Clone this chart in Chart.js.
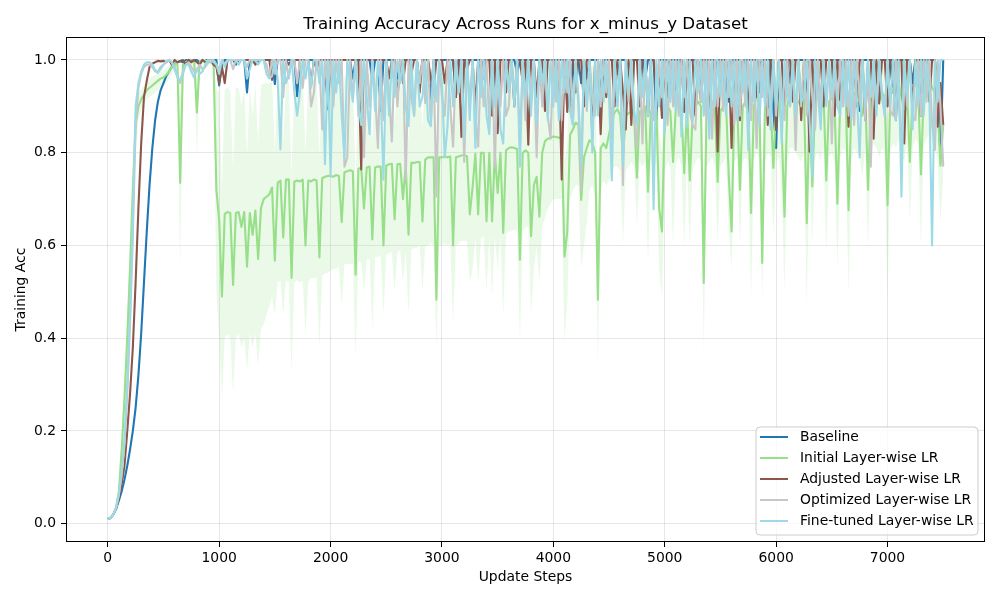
<!DOCTYPE html>
<html>
<head>
<meta charset="utf-8">
<script src="https://cdn.jsdelivr.net/npm/chart.js@4.4.1/dist/chart.umd.min.js"></script>
<style>
  html, body { margin: 0; padding: 0; background: #ffffff; }
  #wrap { width: 1000px; height: 600px; }
</style>
</head>
<body>
<div id="wrap"><canvas id="c" width="1000" height="600"></canvas></div>
<script>
// ---- x grid: one sample every 25 update steps, 20 samples per row (500 steps per row) ----
const STEP = 25, PER_ROW = 20;
const steps = Array.from({length: 301}, (_, i) => i * STEP);
const xTicks = [0, 1000, 2000, 3000, 4000, 5000, 6000, 7000];
const yTicks = [0.0, 0.2, 0.4, 0.6, 0.8, 1.0];
const titleText = 'Training Accuracy Across Runs for x_minus_y Dataset';
const seriesNames = ['Baseline', 'Initial Layer-wise LR', 'Adjusted Layer-wise LR', 'Optimized Layer-wise LR', 'Fine-tuned Layer-wise LR'];

// ---- Baseline ----
const baselineAcc = [
 [0.01,0.012,0.02,0.032,0.05,0.07,0.095,0.125,0.16,0.2,0.25,0.32,0.41,0.52,0.63,0.73,0.81,0.87,0.91,0.935],
 [0.95,0.965,0.975,0.985,0.99,0.995,0.997,0.995,1,1,0.998,1,1,0.995,1,1,1,0.995,1,1],
 [0.945,0.99,1,1,1,1,0.99,1,1,1,0.93,1,1,1,0.995,1,1,1,1,1],
 [0.948,1,1,1,1,1,1,1,0.922,1,1,1,1,1,1,1,1,1,1,0.894],
 [1,1,1,1,1,1,1,1,0.96,1,1,1,1,1,1,0.955,1,1,0.89,1],
 [1,1,1,1,0.96,1,1,1,1,1,1,1,0.95,1,1,1,0.914,1,1,1],
 [1,1,1,1,1,0.92,1,1,1,1,1,1,1,1,0.95,1,1,1,1,1],
 [1,1,1,1,1,1,1,0.97,1,1,1,1,1,1,1,1,1,1,1,1],
 [1,1,1,1,1,1,0.89,1,1,1,0.95,1,0.96,1,1,1,1,0.94,1,1],
 [1,1,1,0.97,1,1,1,0.95,1,1,1,1,1,0.96,1,1,1,0.87,1,1],
 [1,1,0.95,1,1,1,1,0.925,1,1,1,1,0.94,1,1,1,1,1,0.96,1],
 [1,1,1,0.91,1,1,1,1,0.95,1,1,1,1,1,0.93,1,1,1,1,0.892],
 [0.81,1,1,1,1,0.95,1,1,1,1,1,0.93,1,1,1,1,0.88,1,1,1],
 [1,1,1,1,0.94,1,1,1,1,1,0.89,1,1,1,1,1,0.95,1,1,1],
 [1,1,0.93,1,1,1,1,1,1,0.95,1,1,1,1,1,1,1,1,0.95,0.79],
 [1]
];

// ---- Initial Layer-wise LR (mean, lower and upper band) ----
const initialAcc = [
 [0.01,0.013,0.02,0.035,0.07,0.16,0.27,0.4,0.55,0.72,0.86,0.9,0.915,0.925,0.935,0.94,0.945,0.95,0.955,0.96],
 [0.962,0.968,0.975,0.985,0.99,0.995,0.735,0.99,0.995,1,0.995,1,0.887,0.995,1,1,0.995,1,0.99,0.72],
 [0.655,0.49,0.668,0.672,0.67,0.515,0.67,0.672,0.64,0.672,0.554,0.67,0.623,0.675,0.571,0.68,0.70,0.705,0.71,0.725],
 [0.567,0.735,0.74,0.617,0.742,0.742,0.53,0.738,0.74,0.738,0.742,0.60,0.74,0.738,0.742,0.74,0.574,0.745,0.748,0.75],
 [0.75,0.748,0.752,0.75,0.65,0.758,0.76,0.762,0.76,0.537,0.765,0.768,0.68,0.768,0.77,0.613,0.768,0.77,0.77,0.60],
 [0.772,0.775,0.776,0.656,0.775,0.776,0.70,0.775,0.623,0.778,0.778,0.78,0.78,0.652,0.785,0.79,0.79,0.79,0.483,0.79],
 [0.79,0.792,0.79,0.792,0.6,0.79,0.792,0.794,0.795,0.792,0.667,0.725,0.798,0.667,0.8,0.8,0.652,0.8,0.652,0.8],
 [0.713,0.8,0.627,0.805,0.81,0.812,0.81,0.808,0.569,0.8,0.805,0.8,0.62,0.73,0.748,0.662,0.8,0.825,0.83,0.832],
 [0.835,0.834,0.832,0.835,0.576,0.63,0.838,0.85,0.865,0.86,0.698,0.79,0.81,0.827,0.82,0.8,0.483,0.81,0.82,0.81],
 [0.84,0.87,0.887,0.894,0.88,0.79,0.88,0.885,0.89,0.88,0.746,0.89,0.88,0.9,0.716,0.89,0.88,0.895,0.68,0.63],
 [0.88,0.9,0.89,0.78,0.9,0.91,0.89,0.756,0.9,0.74,0.88,0.9,0.91,0.9,0.519,0.89,0.9,0.91,0.895,0.737],
 [0.89,0.9,0.91,0.748,0.63,0.9,0.91,0.72,0.9,0.91,0.9,0.67,0.9,0.92,0.91,0.562,0.9,0.92,0.91,0.767],
 [0.9,0.91,0.85,0.662,0.9,0.93,0.93,0.92,0.91,0.9,0.92,0.648,0.9,0.727,0.91,0.92,0.9,0.93,0.74,0.91],
 [0.92,0.9,0.69,0.91,0.93,0.92,0.676,0.9,0.93,0.92,0.91,0.88,0.93,0.72,0.92,0.94,0.93,0.91,0.93,0.92],
 [0.687,0.92,0.94,0.93,0.95,0.92,0.9,0.94,0.78,0.93,0.95,0.94,0.753,0.93,0.95,0.96,0.94,0.93,0.9,0.772],
 [0.86]
];
const initialLow = [
 [0.01,0.012,0.018,0.03,0.055,0.13,0.22,0.34,0.48,0.64,0.8,0.87,0.895,0.905,0.915,0.92,0.925,0.93,0.935,0.94],
 [0.945,0.95,0.958,0.97,0.98,0.985,0.547,0.98,0.985,0.99,0.985,0.99,0.79,0.985,0.99,0.99,0.985,0.99,0.98,0.5],
 [0.40,0.27,0.40,0.41,0.40,0.28,0.40,0.41,0.38,0.40,0.33,0.41,0.38,0.41,0.34,0.42,0.43,0.45,0.47,0.49],
 [0.45,0.52,0.525,0.45,0.525,0.52,0.33,0.52,0.525,0.52,0.525,0.41,0.52,0.53,0.53,0.53,0.38,0.535,0.54,0.54],
 [0.545,0.55,0.55,0.555,0.47,0.56,0.56,0.56,0.56,0.36,0.565,0.565,0.5,0.57,0.57,0.42,0.575,0.575,0.58,0.45],
 [0.58,0.585,0.585,0.5,0.585,0.59,0.52,0.59,0.45,0.59,0.595,0.595,0.6,0.5,0.6,0.6,0.605,0.6,0.38,0.6],
 [0.6,0.605,0.6,0.605,0.43,0.6,0.605,0.61,0.61,0.61,0.52,0.55,0.615,0.52,0.615,0.62,0.5,0.62,0.49,0.62],
 [0.55,0.62,0.45,0.625,0.63,0.63,0.635,0.63,0.39,0.63,0.64,0.64,0.45,0.55,0.6,0.52,0.64,0.66,0.68,0.69],
 [0.7,0.7,0.7,0.7,0.39,0.48,0.7,0.72,0.73,0.73,0.55,0.6,0.65,0.72,0.73,0.7,0.34,0.72,0.74,0.73],
 [0.74,0.76,0.77,0.77,0.76,0.6,0.76,0.77,0.78,0.77,0.64,0.78,0.77,0.78,0.56,0.78,0.77,0.78,0.55,0.487],
 [0.76,0.78,0.77,0.6,0.78,0.79,0.77,0.6,0.78,0.6,0.76,0.78,0.79,0.78,0.368,0.77,0.78,0.79,0.77,0.6],
 [0.77,0.78,0.79,0.63,0.55,0.78,0.79,0.6,0.78,0.79,0.78,0.48,0.78,0.8,0.79,0.48,0.78,0.8,0.79,0.62],
 [0.78,0.79,0.72,0.5,0.78,0.81,0.81,0.8,0.79,0.78,0.8,0.47,0.78,0.6,0.79,0.8,0.78,0.81,0.58,0.79],
 [0.8,0.78,0.55,0.79,0.81,0.8,0.493,0.78,0.81,0.8,0.79,0.75,0.81,0.597,0.8,0.82,0.81,0.79,0.81,0.8],
 [0.475,0.8,0.82,0.81,0.83,0.8,0.78,0.82,0.65,0.81,0.83,0.82,0.6,0.81,0.83,0.84,0.82,0.81,0.78,0.65],
 [0.75]
];
const initialHigh = [
 [0.01,0.014,0.022,0.04,0.085,0.19,0.32,0.46,0.62,0.79,0.91,0.93,0.935,0.945,0.955,0.96,0.965,0.968,0.972,0.975],
 [0.978,0.982,0.988,0.993,0.996,1,0.92,1,1,1,1,1,0.98,1,1,1,1,1,1,0.94],
 [0.93,0.72,0.935,0.94,0.935,0.76,0.94,0.94,0.9,0.94,0.79,0.94,0.88,0.945,0.82,0.945,0.95,0.95,0.95,0.955],
 [0.8,0.95,0.955,0.82,0.955,0.955,0.75,0.955,0.955,0.955,0.96,0.8,0.96,0.955,0.96,0.96,0.79,0.96,0.96,0.965],
 [0.965,0.96,0.965,0.965,0.85,0.965,0.965,0.97,0.965,0.73,0.97,0.97,0.88,0.97,0.97,0.82,0.97,0.97,0.975,0.8],
 [0.975,0.975,0.975,0.86,0.975,0.975,0.9,0.975,0.82,0.98,0.98,0.98,0.98,0.85,0.98,0.98,0.98,0.985,0.62,0.985],
 [0.985,0.985,0.985,0.985,0.8,0.985,0.985,0.985,0.985,0.985,0.85,0.9,0.985,0.85,0.99,0.99,0.85,0.99,0.84,0.99],
 [0.9,0.99,0.82,0.99,0.99,0.99,0.99,0.99,0.78,0.99,0.99,0.99,0.8,0.92,0.93,0.85,0.99,0.99,0.99,0.99],
 [0.99,0.99,0.99,0.99,0.78,0.82,0.99,0.99,0.995,0.99,0.88,0.95,0.97,0.99,0.99,0.98,0.66,0.99,0.99,0.99],
 [0.99,0.995,0.995,0.995,0.99,0.95,0.99,0.995,0.995,0.99,0.9,0.995,0.99,0.995,0.88,0.995,0.99,0.995,0.85,0.8],
 [0.99,0.995,0.995,0.94,0.995,0.995,0.99,0.92,0.995,0.9,0.99,0.995,0.995,0.995,0.7,0.995,0.995,0.995,0.995,0.9],
 [0.995,0.995,0.995,0.9,0.8,0.995,0.995,0.88,0.995,0.995,0.995,0.85,0.995,0.995,0.995,0.72,0.995,0.995,0.995,0.93],
 [0.995,0.995,0.97,0.85,0.995,1,1,0.995,0.995,0.995,0.995,0.84,0.995,0.88,0.995,0.995,0.995,1,0.9,0.995],
 [1,0.995,0.86,0.995,1,1,0.85,0.995,1,1,0.995,0.99,1,0.88,1,1,1,0.995,1,1],
 [0.87,1,1,1,1,1,0.995,1,0.92,1,1,1,0.9,1,1,1,1,1,0.995,0.9],
 [0.97]
];

// ---- Adjusted Layer-wise LR ----
const adjustedAcc = [
 [0.01,0.012,0.02,0.033,0.055,0.085,0.125,0.2,0.28,0.38,0.52,0.68,0.82,0.92,0.955,0.985,0.992,0.995,0.998,0.997],
 [0.998,0.995,1,0.99,1,0.995,0.998,1,0.99,1,0.995,1,0.995,0.99,1,0.995,0.995,1,0.99,0.985],
 [0.95,0.985,0.95,1,1,1,0.995,1,1,1,1,1,1,0.99,1,1,1,1,1,0.957],
 [1,1,1,1,1,0.99,1,1,1,1,1,1,1,0.945,1,0.98,1,1,1,1],
 [1,1,1,1,1,1,1,1,1,1,1,0.764,1,1,1,1,1,1,1,1],
 [1,0.96,1,1,0.915,1,0.95,1,1,0.97,1,1,0.93,1,1,1,0.96,0.935,1,1],
 [1,0.95,1,1,1,0.92,1,0.834,1,0.98,1,1,0.9,1,1,0.96,1,1,0.88,1],
 [0.842,1,1,0.93,1,1,0.9,1,1,0.95,1,0.817,1,1,0.92,1,1,0.89,1,1],
 [1,0.94,1,0.742,1,0.888,1,1,0.93,1,1,0.9,1,1,0.834,1,1,0.84,1,0.92],
 [1,1,0.9,1,1,0.93,0.85,1,0.86,1,1,0.9,1,1,0.88,1,1,0.93,0.96,0.875],
 [1,0.92,1,1,0.9,1,1,0.888,0.96,1,1,0.88,1,0.91,1,1,0.87,1,1,0.802],
 [1,1,0.9,1,0.81,1,1,0.87,1,1,0.888,1,1,0.92,1,0.97,1,0.86,1,1],
 [0.849,1,1,0.888,1,1,0.91,1,1,0.87,1,1,0.802,1,0.89,1,1,0.9,1,1],
 [1,0.88,1,0.913,1,1,0.856,1,1,0.9,1,1,0.87,1,1,0.83,1,0.906,1,1],
 [0.9,1,1,0.87,1,1,0.82,1,1,0.9,1,1,0.88,1,1,0.91,1,1,0.856,0.95],
 [0.86]
];

// ---- Optimized Layer-wise LR ----
const optimizedAcc = [
 [0.01,0.012,0.02,0.034,0.062,0.105,0.17,0.28,0.43,0.62,0.86,0.94,0.97,0.985,0.99,0.99,0.985,0.975,0.975,0.985],
 [0.99,0.995,1,0.995,0.985,0.965,0.95,0.97,0.99,0.995,0.985,0.975,0.98,0.99,0.98,0.985,0.995,1,0.995,0.99],
 [0.98,1,0.99,1,1,0.98,1,1,1,1,0.985,1,1,1,1,1,1,0.99,0.965,1],
 [0.97,1,1,0.92,1,0.96,1,1,0.95,1,0.94,1,1,0.9,0.928,1,1,0.85,1,0.93],
 [1,0.9,1,0.95,1,0.77,0.79,1,0.92,1,0.88,1,0.79,1,0.9,1,0.93,0.81,1,0.87],
 [1,0.93,0.824,1,0.9,1,1,0.741,1,0.92,0.88,1,0.95,1,0.907,1,0.86,1,0.705,1],
 [0.92,0.88,1,0.9,0.813,1,0.93,1,0.78,1,0.91,1,0.88,0.813,1,0.9,1,0.86,1,0.77],
 [1,0.9,1,0.88,0.9,1,0.92,1,0.82,1,0.87,1,0.93,1,0.79,1,0.9,1,0.88,0.83],
 [1,0.91,1,0.87,1,0.93,1,0.86,1,0.9,0.72,1,0.89,1,0.92,0.88,1,0.9,1,0.93],
 [1,0.83,1,0.9,1,0.73,1,0.91,1,0.88,0.81,1,0.82,1,0.9,1,0.87,0.9,1,0.92],
 [1,0.86,1,0.9,1,0.88,1,0.92,1,0.89,0.86,0.85,1,0.91,1,0.87,1,0.83,1,0.9],
 [1,0.89,1,0.92,1,0.86,1,0.88,1,0.9,1,0.87,1,0.81,1,0.92,1,0.88,0.9,1],
 [0.88,1,0.92,0.87,1,0.9,1,0.806,1,0.9,1,0.88,1,0.92,0.85,1,0.89,1,0.91,1],
 [0.82,1,0.9,1,0.9,1,0.88,1,0.86,1,0.91,1,0.87,1,0.77,1,0.9,1,0.92,0.88],
 [1,0.89,0.88,1,0.92,0.806,1,0.9,1,0.88,0.87,1,0.88,1,0.91,1,0.86,0.806,1,0.9],
 [0.77]
];

// ---- Fine-tuned Layer-wise LR ----
const finetunedAcc = [
 [0.01,0.012,0.02,0.035,0.065,0.11,0.18,0.3,0.45,0.65,0.9,0.95,0.975,0.99,0.995,0.995,0.99,0.978,0.972,0.98],
 [0.99,0.997,1,0.995,0.98,0.963,0.955,0.975,0.99,0.99,0.975,0.962,0.98,0.97,0.975,0.99,1,0.995,1,0.99],
 [0.97,1,0.985,1,1,1,1,0.99,1,1,0.96,0.98,1,1,0.99,1,1,0.97,0.96,0.965],
 [1,0.96,0.807,1,0.95,0.97,1,0.93,0.88,0.93,1,0.96,1,0.94,1,1,0.95,1,0.775,1],
 [0.749,1,0.93,1,0.88,0.79,1,0.95,0.91,1,0.9,0.86,1,0.92,0.84,1,0.89,1,0.93,0.742],
 [1,0.88,1,0.92,1,0.95,1,0.9,0.857,1,0.88,1,0.9,0.92,1,0.87,0.857,1,0.91,1],
 [0.95,0.79,0.857,1,0.9,1,0.93,1,0.83,1,0.87,1,0.81,1,0.92,1,0.88,0.84,1,0.9],
 [1,0.85,0.82,1,0.93,1,0.9,1,0.77,1,0.92,1,0.88,1,0.86,1,0.95,1,0.87,1],
 [0.9,1,0.87,1,0.93,1,0.89,0.86,1,0.92,0.775,1,0.9,1,0.8,1,0.88,1,0.91,1],
 [0.92,0.74,1,0.9,1,0.775,1,0.93,1,0.89,0.86,1,0.92,1,0.88,1,0.678,1,0.9,1],
 [0.842,1,0.91,1,0.89,1,0.835,1,0.856,1,0.87,1,0.93,1,0.88,1,0.83,1,0.9,1],
 [0.92,1,0.88,1,0.9,1,0.87,1,0.93,1,0.806,1,0.91,1,0.86,1,0.9,1,0.85,1],
 [0.9,1,0.82,1,0.93,0.9,1,0.88,1,0.91,0.92,1,0.87,0.748,1,0.93,0.85,1,0.9,1],
 [0.92,1,0.9,0.88,1,0.9,1,0.87,1,0.92,0.79,1,0.9,1,0.92,1,0.88,1,0.93,0.88],
 [1,0.9,1,0.87,1,0.705,1,0.92,1,0.85,1,0.9,1,0.88,1,0.93,0.6,1,0.91,1],
 [1]
];

const colors = {
  baseline: '#1f77b4', initial: '#98df8a', adjusted: '#8c564b',
  optimized: '#c7c7c7', finetuned: '#9edae5'
};

function toPoints(rows) {
  const pts = [];
  rows.forEach((row, r) => row.forEach((v, c) => {
    const idx = r * PER_ROW + c;
    if (idx < steps.length) pts.push({x: steps[idx], y: v});
  }));
  return pts;
}

function lineDs(label, rows, color, order) {
  return {
    label, data: toPoints(rows), borderColor: color, backgroundColor: color,
    borderWidth: 2.1, pointRadius: 0, pointHoverRadius: 0, tension: 0, fill: false,
    borderJoinStyle: 'round', borderCapStyle: 'butt', order
  };
}

const datasets = [
  { label: '_initLow', data: toPoints(initialLow), borderWidth: 0, borderColor: 'rgba(0,0,0,0)',
    pointRadius: 0, fill: false, order: 20 },
  { label: '_initHigh', data: toPoints(initialHigh), borderWidth: 0, borderColor: 'rgba(0,0,0,0)',
    backgroundColor: 'rgba(152,223,138,0.2)', pointRadius: 0, fill: '-1', order: 20 },
  lineDs(seriesNames[0], baselineAcc, colors.baseline, 4),
  lineDs(seriesNames[1], initialAcc, colors.initial, 3),
  lineDs(seriesNames[2], adjustedAcc, colors.adjusted, 2),
  lineDs(seriesNames[3], optimizedAcc, colors.optimized, 1),
  lineDs(seriesNames[4], finetunedAcc, colors.finetuned, 0)
];

const FONT = 'DejaVu Sans';

const titlePlugin = {
  id: 'axesTitle',
  afterDraw(chart) {
    const {ctx, chartArea: a} = chart;
    ctx.save();
    ctx.font = '16.7px "' + FONT + '"';
    ctx.fillStyle = '#000';
    ctx.textAlign = 'center';
    ctx.textBaseline = 'alphabetic';
    ctx.fillText(titleText, (a.left + a.right) / 2, 29);
    ctx.restore();
  }
};

const framePlugin = {
  id: 'frame',
  afterDatasetsDraw(chart) {
    const {ctx, chartArea: a} = chart;
    ctx.save();
    ctx.strokeStyle = '#000';
    ctx.lineWidth = 1;
    ctx.strokeRect(Math.round(a.left) + 0.5, Math.round(a.top) + 0.5,
                   Math.round(a.right - a.left) - 1, Math.round(a.bottom - a.top) - 1);
    ctx.restore();
  }
};

const legendPlugin = {
  id: 'mplLegend',
  afterDraw(chart) {
    const ctx = chart.ctx;
    const x0 = 756, y0 = 427, w = 222, h = 108, r = 4;
    ctx.save();
    ctx.beginPath();
    ctx.moveTo(x0 + r, y0);
    ctx.arcTo(x0 + w, y0, x0 + w, y0 + h, r);
    ctx.arcTo(x0 + w, y0 + h, x0, y0 + h, r);
    ctx.arcTo(x0, y0 + h, x0, y0, r);
    ctx.arcTo(x0, y0, x0 + w, y0, r);
    ctx.closePath();
    ctx.fillStyle = 'rgba(255,255,255,0.8)';
    ctx.fill();
    ctx.strokeStyle = '#cccccc';
    ctx.lineWidth = 1;
    ctx.stroke();
    const cols = [colors.baseline, colors.initial, colors.adjusted, colors.optimized, colors.finetuned];
    ctx.font = '13.9px "' + FONT + '"';
    ctx.textBaseline = 'middle';
    ctx.textAlign = 'left';
    seriesNames.forEach((name, i) => {
      const y = 437 + i * 21;
      ctx.beginPath();
      ctx.strokeStyle = cols[i];
      ctx.lineWidth = 2;
      ctx.moveTo(760, y);
      ctx.lineTo(788, y);
      ctx.stroke();
      ctx.fillStyle = '#000';
      ctx.fillText(name, 800, y + 0.5);
    });
    ctx.restore();
  }
};

new Chart(document.getElementById('c'), {
  type: 'line',
  data: { datasets },
  plugins: [framePlugin, legendPlugin, titlePlugin],
  options: {
    responsive: false,
    animation: false,
    devicePixelRatio: 1,
    events: [],
    layout: { padding: { left: 0, right: 15, top: 37, bottom: 0 } },
    plugins: {
      legend: { display: false },
      tooltip: { enabled: false },
      title: { display: false }
    },
    scales: {
      x: {
        type: 'linear',
        min: -375, max: 7875,
        afterBuildTicks: s => { s.ticks = xTicks.map(v => ({value: v})); },
        afterFit: s => { s.height = 58; },
        ticks: {
          color: '#000', font: { family: FONT, size: 13.9 }, padding: 3,
          maxRotation: 0, autoSkip: false, callback: v => String(v)
        },
        grid: {
          color: 'rgba(176,176,176,0.3)', lineWidth: 1, drawTicks: true,
          tickLength: 5, tickColor: '#000', tickWidth: 1
        },
        border: { display: false },
        title: {
          display: true, text: 'Update Steps', color: '#000',
          font: { family: FONT, size: 13.9 }, padding: { top: 0, bottom: 14.6 }
        }
      },
      y: {
        type: 'linear',
        min: -0.0395, max: 1.0495,
        afterBuildTicks: s => { s.ticks = yTicks.map(v => ({value: v})); },
        afterFit: s => { s.width = 66; },
        ticks: {
          color: '#000', font: { family: FONT, size: 13.9 }, padding: 5,
          autoSkip: false, callback: v => Number(v).toFixed(1)
        },
        grid: {
          color: 'rgba(176,176,176,0.3)', lineWidth: 1, drawTicks: true,
          tickLength: 5, tickColor: '#000', tickWidth: 1
        },
        border: { display: false },
        title: {
          display: true, text: 'Training Acc', color: '#000',
          font: { family: FONT, size: 13.9 }, padding: { top: 12.7, bottom: 0 }
        }
      }
    }
  }
});
</script>
</body>
</html>
